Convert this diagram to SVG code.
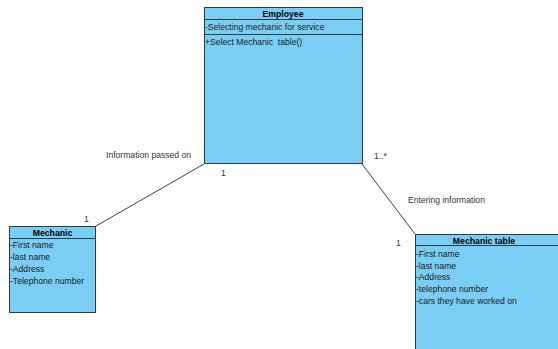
<svg xmlns="http://www.w3.org/2000/svg" width="558" height="349" viewBox="0 0 558 349">
  <style>
    .box { fill: #7ACEF4; stroke: #2b3a44; stroke-width: 1; }
    .sep { stroke: #2b3a44; stroke-width: 1; }
    .title { font-family: "Liberation Sans", Arial, sans-serif; font-size: 8.7px; font-weight: bold; fill: #000; text-anchor: middle; }
    .attr { font-family: "Liberation Sans", Arial, sans-serif; font-size: 8.6px; fill: #1a1a1a; }
    .lbl { font-family: "Liberation Sans", Arial, sans-serif; font-size: 8.6px; fill: #333; }
    .conn { stroke: #404040; stroke-width: 1; fill: none; }
  </style>
  <rect width="558" height="349" fill="#ffffff"/>

  <g id="connectors">
    <line class="conn" x1="204" y1="164" x2="96" y2="226"/>
    <line class="conn" x1="362" y1="164" x2="415" y2="234"/>
    <text class="lbl" x="106" y="158">Information passed on</text>
    <text class="lbl" x="221" y="176">1</text>
    <text class="lbl" x="84" y="222">1</text>
    <text class="lbl" x="374" y="159">1..*</text>
    <text class="lbl" x="408" y="203">Entering information</text>
    <text class="lbl" x="396" y="246">1</text>
  </g>

  <g id="employee">
    <rect class="box" x="204.5" y="7.5" width="158" height="156"/>
    <line class="sep" x1="204.5" y1="19.5" x2="362.5" y2="19.5"/>
    <line class="sep" x1="204.5" y1="34.5" x2="362.5" y2="34.5"/>
    <text class="title" x="283" y="17">Employee</text>
    <text class="attr" x="205" y="30">-Selecting mechanic for service</text>
    <text class="attr" x="205" y="45" xml:space="preserve">+Select Mechanic  table()</text>
  </g>

  <g id="mechanic">
    <rect class="box" x="9.5" y="226.5" width="86" height="86"/>
    <line class="sep" x1="9.5" y1="238.5" x2="95.5" y2="238.5"/>
    <text class="title" x="52.5" y="236">Mechanic</text>
    <text class="attr" x="10" y="248">-First name</text>
    <text class="attr" x="10" y="260">-last name</text>
    <text class="attr" x="10" y="272">-Address</text>
    <text class="attr" x="10" y="284">-Telephone number</text>
  </g>

  <g id="mechanic-table">
    <rect class="box" x="415.5" y="234.5" width="150" height="120"/>
    <line class="sep" x1="415.5" y1="245.5" x2="565.5" y2="245.5"/>
    <text class="title" x="484" y="243.5">Mechanic table</text>
    <text class="attr" x="416" y="257">-First name</text>
    <text class="attr" x="416" y="269">-last name</text>
    <text class="attr" x="416" y="280">-Address</text>
    <text class="attr" x="416" y="292">-telephone number</text>
    <text class="attr" x="416" y="304">-cars they have worked on</text>
  </g>
</svg>
